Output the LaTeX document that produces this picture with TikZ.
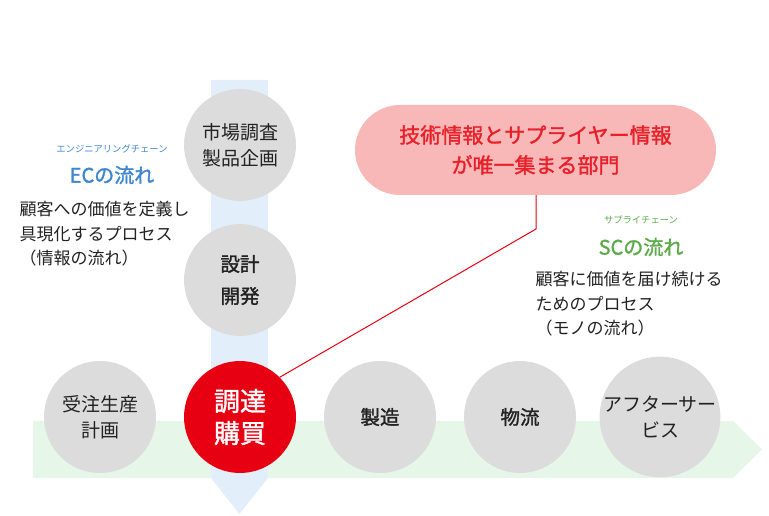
\documentclass[tikz,border=0pt]{standalone}
\usepackage{fontspec}
\setmainfont{Noto Sans CJK JP}
\newfontfamily\jpb{Noto Sans CJK JP}[FakeBold=1.5]
\definecolor{vblue}{HTML}{E2EFFA}
\definecolor{hgreen}{HTML}{E6F7EA}
\definecolor{cgray}{HTML}{DCDCDC}
\definecolor{jred}{HTML}{E60012}
\definecolor{jpink}{HTML}{F9B8B8}
\definecolor{tred}{HTML}{E8202A}
\definecolor{ecblue}{HTML}{3F86CF}
\definecolor{scgreen}{HTML}{5DAA4A}
\definecolor{tx}{HTML}{222222}
\begin{document}
\begin{tikzpicture}[x=1pt,y=-1pt,
  circ/.style={circle,fill=cgray,minimum size=112pt,inner sep=0pt,align=center,text=tx,font=\fontsize{19}{26}\selectfont},
  bcirc/.style={circ,font=\jpb\fontsize{19.5}{32}\selectfont},
  desc/.style={align=left,anchor=north west,text=tx,font=\fontsize{17}{24.5}\selectfont},
  ruby/.style={font=\fontsize{9.3}{11}\selectfont}]
\useasboundingbox (0,0) rectangle (769,516);
\fill[hgreen] (33,421) -- (733,421) -- (762,449.5) -- (733,478) -- (33,478) -- cycle;
\fill[vblue] (211,80) -- (268,80) -- (268,478) -- (239.5,514) -- (211,478) -- cycle;
\node[circ] (a) at (240,145) {市場調査\\製品企画};
\node[bcirc] (b) at (240,280) {設計\\開発};
\node[circ] (c) at (100,417) {受注生産\\計画};
\node[circle,fill=jred,minimum size=112pt,inner sep=0pt,align=center,text=white,font=\jpb\fontsize{26}{32}\selectfont] (d) at (240,417) {調達\\購買};
\node[bcirc] (e) at (380,417) {製造};
\node[bcirc] (f) at (520,417) {物流};
\node[circ] (g) at (660,417) {アフターサー\\ビス};
\node[rounded corners=45pt,fill=jpink,minimum width=361pt,minimum height=90pt,align=center,text=tred,font=\jpb\fontsize{21}{30}\selectfont] (p) at (535.5,150) {技術情報とサプライヤー情報\\が唯一集まる部門};
\coordinate (k) at (536,229);
\draw[jred,line width=1pt] (p.south -| k) -- (k) -- (d.45);
\node[ruby,text=ecblue] (er) at (112,149) {エンジニアリングチェーン};
\node[text=ecblue,font=\jpb\fontsize{20}{22}\selectfont] (et) at (112,175) {ECの流れ};
\node[desc] (ed) at (16,198) {顧客への価値を定義し\\具現化するプロセス\\（情報の流れ）};
\node[ruby,text=scgreen] (sr) at (641,220) {サプライチェーン};
\node[text=scgreen,font=\jpb\fontsize{20}{22}\selectfont] (st) at (641,247) {SCの流れ};
\node[desc] (sd) at (532,268) {顧客に価値を届け続ける\\ためのプロセス\\（モノの流れ）};
\end{tikzpicture}
\end{document}
